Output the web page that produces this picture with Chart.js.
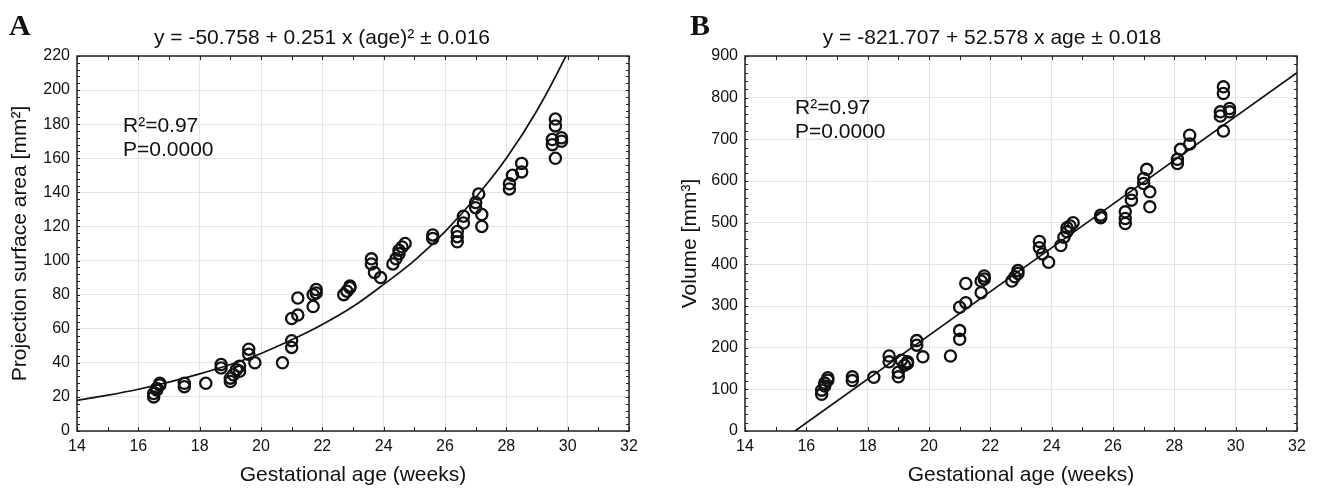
<!DOCTYPE html>
<html><head><meta charset="utf-8">
<script src="https://cdn.jsdelivr.net/npm/chart.js@4.4.1/dist/chart.umd.min.js"></script>
<style>
body{margin:0;background:#fff;width:1318px;height:492px;overflow:hidden;position:relative;font-family:"Liberation Sans",Arial,sans-serif;color:#111}
canvas{position:absolute;top:0}
.lbl{position:absolute;font-family:"Liberation Serif",serif;font-weight:bold;font-size:30px;line-height:1;top:10px}
.eq{position:absolute;font-size:21px;line-height:1;top:26px;transform:translateX(-50%);white-space:nowrap}
</style></head>
<body>
<canvas id="cA" width="659" height="492" style="left:0"></canvas>
<canvas id="cB" width="659" height="492" style="left:659px"></canvas>
<div class="lbl" style="left:9px">A</div>
<div class="lbl" style="left:690px">B</div>
<div class="eq" style="left:322px">y = -50.758 + 0.251 x (age)² ± 0.016</div>
<div class="eq" style="left:992px">y = -821.707 + 52.578 x age ± 0.018</div>
<script>
// ---- data ----
const ages = [
16.5,16.5,16.6,16.6,16.7,16.7,
17.5,17.5,
18.2,
18.7,18.7,
19.0,19.0,19.1,19.2,19.3,19.3,
19.6,19.6,
19.8,
20.7,
21.0,21.0,21.0,
21.2,21.2,
21.7,21.7,
21.8,21.8,
22.7,22.8,22.9,22.9,
23.6,23.6,23.7,23.9,
24.3,24.4,24.5,24.5,24.6,24.7,
25.6,25.6,
26.4,26.4,26.4,
26.6,26.6,
27.0,27.0,27.1,
27.2,27.2,
28.1,28.1,28.2,
28.5,28.5,
29.5,29.5,29.6,29.6,29.6,
29.8,29.8];
const areaA = [
20,22,24,25,27,28,
26,28,
28,
37,39,
29,31,33,36,35,38,
45,48,
40,
40,
49,53,66,
68,78,
73,80,
81,83,
80,82,84,85,
101,98,93,90,
98,101,104,106,108,110,
113,115,
111,114,117,
122,126,
131,134,139,
120,127,
142,145,150,
152,157,
168,171,160,179,183,
170,172];
const volumeB = [
88,98,108,115,122,128,
121,130,
129,
166,180,
130,141,170,158,166,162,
206,217,
178,
180,
220,241,297,
308,354,
332,360,
365,372,
360,370,378,385,
455,440,425,405,
445,465,478,488,492,500,
512,518,
498,510,526,
554,570,
594,606,628,
538,574,
642,652,676,
689,710,
756,766,720,810,826,
766,774];
const curveAgeA = [14,15,16,17,18,19,20,21,22,23,24,25,26,27,28,29,30,30.6];
const curveValA = [18,21,24.5,28.7,33.5,39,45.5,53.5,62.5,73,86,100,117,137,160,188,222,245];
const lineAgeB = [15.63,32];
const lineValB = [0,860];
const xTicks = [14,16,18,20,22,24,26,28,30,32];
const yTicksA = [0,20,40,60,80,100,120,140,160,180,200,220];
const yTicksB = [0,100,200,300,400,500,600,700,800,900];

Chart.defaults.font.family = '"Liberation Sans", Arial, sans-serif';
const TXT = '#111';

const framePlugin = {
  id:'frame',
  afterDraw(chart){
    const o = chart.options.plugins.frame;
    const {ctx, chartArea:a, scales} = chart;
    ctx.save();
    ctx.strokeStyle = '#222';
    ctx.lineWidth = 1.5;
    ctx.strokeRect(a.left, a.top, a.right-a.left, a.bottom-a.top);
    ctx.lineWidth = 1;
    ctx.beginPath();
    for (let v = 14; v <= 32; v += 1) {
      const x = Math.round(scales.x.getPixelForValue(v))+0.5;
      ctx.moveTo(x, a.bottom); ctx.lineTo(x, a.bottom-4);
      ctx.moveTo(x, a.top); ctx.lineTo(x, a.top+4);
    }
    for (let v = 0; v <= o.yMax; v += o.yMinor) {
      const y = Math.round(scales.y.getPixelForValue(v))+0.5;
      ctx.moveTo(a.left, y); ctx.lineTo(a.left+3, y);
      ctx.moveTo(a.right, y); ctx.lineTo(a.right-3, y);
    }
    ctx.stroke();
    ctx.fillStyle = TXT;
    ctx.font = '21px "Liberation Sans", Arial, sans-serif';
    ctx.textBaseline = 'middle';
    ctx.textAlign = 'left';
    ctx.fillText('R²=0.97', o.tx, o.ty);
    ctx.fillText('P=0.0000', o.tx, o.ty+24);
    ctx.restore();
  }
};

function build(id, yVals, fitX, fitY, o){
  const pts = ages.map((a,i)=>({x:a, y:yVals[i]}));
  const fit = fitX.map((a,i)=>({x:a, y:fitY[i]}));
  return new Chart(document.getElementById(id), {
    type:'scatter',
    data:{datasets:[
      {data:fit, showLine:true, pointRadius:0, borderColor:'#111', borderWidth:1.7,
       tension:0.4, cubicInterpolationMode:'monotone', fill:false},
      {data:pts, pointStyle:'circle', pointRadius:5.6, pointHoverRadius:5.6, pointBorderWidth:2.3,
       borderColor:'#111', backgroundColor:'rgba(0,0,0,0)'}
    ]},
    options:{
      responsive:false, animation:false, devicePixelRatio:1, events:[],
      layout:{padding:{left:0, right:o.padR, top:56, bottom:0}},
      plugins:{legend:{display:false}, tooltip:{enabled:false},
        frame:{yMax:o.yMax, yMinor:o.yMinor, tx:o.tx, ty:o.ty}},
      scales:{
        x:{type:'linear', min:14, max:32,
          afterBuildTicks:s=>{s.ticks = xTicks.map(v=>({value:v}));},
          ticks:{font:{size:16}, color:TXT, padding:6},
          grid:{color:'#e3e3e3', drawTicks:false}, border:{display:false},
          title:{display:true, text:'Gestational age (weeks)', color:TXT, font:{size:21}, padding:{top:0,bottom:4}},
          afterFit:s=>{s.height=61;}
        },
        y:{type:'linear', min:0, max:o.yMax,
          afterBuildTicks:s=>{s.ticks = o.yTicks.map(v=>({value:v}));},
          ticks:{font:{size:16}, color:TXT, padding:7},
          grid:{color:'#e3e3e3', drawTicks:false}, border:{display:false},
          title:{display:true, text:o.yTitle, color:TXT, font:{size:21}, padding:{top:o.titlePad,bottom:0}},
          afterFit:s=>{s.width=o.yW;}
        }
      }
    },
    plugins:[framePlugin]
  });
}

build('cA', areaA, curveAgeA, curveValA,
  {padR:30, yW:77, yMax:220, yMinor:4, yTicks:yTicksA, yTitle:'Projection surface area [mm²]', titlePad:8, tx:123, ty:126});
build('cB', volumeB, lineAgeB, lineValB,
  {padR:21, yW:86, yMax:900, yMinor:20, yTicks:yTicksB, yTitle:'Volume [mm³]', titlePad:19, tx:136, ty:108});
</script>
</body></html>
